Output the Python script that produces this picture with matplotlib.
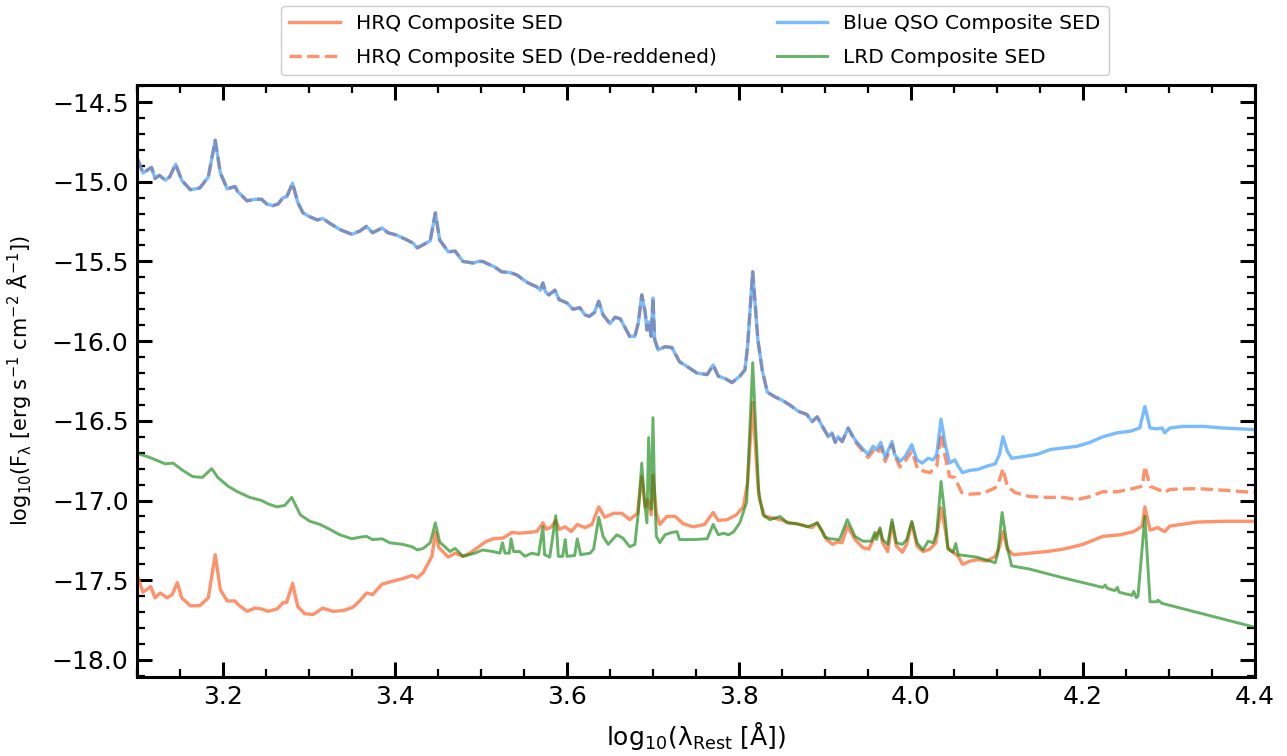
import numpy as np
import matplotlib
matplotlib.use("Agg")
import matplotlib.pyplot as plt
from matplotlib.ticker import MultipleLocator

plt.rcParams['mathtext.default'] = 'regular'

# Blue QSO composite
qso_x = np.array([
    3.101, 3.107, 3.117, 3.121, 3.126, 3.133, 3.138, 3.145, 3.152, 3.162,
    3.173, 3.183, 3.191, 3.197, 3.205, 3.214, 3.217, 3.228, 3.237, 3.245,
    3.251, 3.258, 3.264, 3.270, 3.274, 3.281, 3.287, 3.293, 3.301, 3.310,
    3.316, 3.324, 3.336, 3.350, 3.359, 3.367, 3.374, 3.385, 3.392, 3.402,
    3.414, 3.421, 3.426, 3.433, 3.441, 3.447, 3.452, 3.462, 3.470, 3.479,
    3.491, 3.497, 3.502, 3.508, 3.516, 3.524, 3.534, 3.542, 3.548, 3.555,
    3.565, 3.569, 3.572, 3.575, 3.579, 3.586, 3.591, 3.600, 3.607, 3.615,
    3.621, 3.626, 3.632, 3.637, 3.642, 3.650, 3.656, 3.662, 3.667, 3.673,
    3.679, 3.683, 3.687, 3.691, 3.693, 3.695, 3.698, 3.700, 3.702, 3.706,
    3.714, 3.722, 3.731, 3.740, 3.751, 3.763, 3.770, 3.776, 3.784, 3.792,
    3.801, 3.807, 3.810, 3.816, 3.822, 3.827, 3.833, 3.842, 3.850, 3.859,
    3.869, 3.879, 3.885, 3.891, 3.897, 3.904, 3.908, 3.912, 3.915, 3.920,
    3.927, 3.935, 3.943, 3.950, 3.956, 3.960, 3.965, 3.970, 3.978, 3.981,
    3.987, 3.993, 4.001, 4.007, 4.013, 4.020, 4.026, 4.030, 4.035, 4.040,
    4.045, 4.051, 4.055, 4.060, 4.069, 4.078, 4.088, 4.098, 4.103, 4.107,
    4.112, 4.117, 4.130, 4.147, 4.162, 4.177, 4.193, 4.208, 4.223, 4.240,
    4.255, 4.266, 4.272, 4.278, 4.286, 4.292, 4.295, 4.301, 4.316, 4.340,
    4.363, 4.400])
qso_y = np.array([
    -14.86, -14.945, -14.91, -14.98, -14.96, -14.99, -14.97, -14.89, -14.99, -15.05,
    -15.04, -14.97, -14.74, -14.945, -15.045, -15.03, -15.06, -15.12, -15.11, -15.11,
    -15.14, -15.15, -15.14, -15.10, -15.095, -15.01, -15.13, -15.195, -15.22, -15.24,
    -15.23, -15.26, -15.30, -15.33, -15.31, -15.28, -15.32, -15.29, -15.32, -15.335,
    -15.365, -15.385, -15.415, -15.395, -15.37, -15.195, -15.365, -15.44, -15.435, -15.50,
    -15.51, -15.50, -15.50, -15.515, -15.535, -15.565, -15.57, -15.585, -15.61, -15.635,
    -15.66, -15.68, -15.635, -15.69, -15.71, -15.68, -15.74, -15.76, -15.80, -15.79,
    -15.835, -15.845, -15.82, -15.75, -15.835, -15.89, -15.85, -15.86, -15.91, -15.97,
    -15.97, -15.885, -15.71, -15.82, -15.93, -15.88, -15.97, -15.73, -15.99, -16.055,
    -16.035, -16.04, -16.13, -16.16, -16.20, -16.21, -16.15, -16.22, -16.235, -16.26,
    -16.22, -16.18, -16.035, -15.565, -15.99, -16.18, -16.32, -16.35, -16.37, -16.40,
    -16.44, -16.46, -16.505, -16.475, -16.535, -16.60, -16.575, -16.635, -16.60, -16.63,
    -16.545, -16.62, -16.67, -16.71, -16.66, -16.68, -16.635, -16.73, -16.63, -16.71,
    -16.755, -16.725, -16.65, -16.745, -16.765, -16.735, -16.745, -16.71, -16.49, -16.65,
    -16.765, -16.745, -16.785, -16.825, -16.81, -16.805, -16.785, -16.77, -16.71, -16.60,
    -16.69, -16.735, -16.725, -16.71, -16.68, -16.67, -16.66, -16.635, -16.60, -16.575,
    -16.565, -16.545, -16.41, -16.545, -16.55, -16.545, -16.575, -16.545, -16.535, -16.535,
    -16.545, -16.555])

# De-reddened HRQ follows the QSO template up to ~3.93, then drops below it
dered_tail_x = np.array([
    3.935, 3.944, 3.950, 3.956, 3.960, 3.965, 3.970, 3.978, 3.983, 3.987,
    3.993, 4.001, 4.008, 4.015, 4.022, 4.030, 4.035, 4.040, 4.045, 4.051,
    4.059, 4.069, 4.084, 4.098, 4.103, 4.107, 4.112, 4.121, 4.138, 4.158,
    4.177, 4.193, 4.208, 4.223, 4.240, 4.258, 4.269, 4.272, 4.278, 4.287,
    4.295, 4.301, 4.333, 4.363, 4.400])
dered_tail_y = np.array([
    -16.63, -16.69, -16.73, -16.69, -16.71, -16.665, -16.755, -16.65, -16.74, -16.79,
    -16.755, -16.69, -16.805, -16.815, -16.825, -16.785, -16.58, -16.73, -16.85, -16.855,
    -16.95, -16.96, -16.955, -16.92, -16.87, -16.80, -16.91, -16.95, -16.975, -16.98,
    -16.98, -16.995, -16.975, -16.945, -16.945, -16.925, -16.91, -16.785, -16.91, -16.93,
    -16.95, -16.93, -16.925, -16.935, -16.95])

# HRQ composite (observed)
hrq_x = np.array([
    3.101, 3.107, 3.116, 3.121, 3.127, 3.135, 3.141, 3.147, 3.152, 3.162,
    3.173, 3.183, 3.191, 3.197, 3.205, 3.214, 3.217, 3.228, 3.237, 3.245,
    3.252, 3.263, 3.270, 3.274, 3.281, 3.287, 3.295, 3.305, 3.316, 3.328,
    3.340, 3.351, 3.359, 3.367, 3.374, 3.385, 3.398, 3.409, 3.420, 3.426,
    3.433, 3.443, 3.447, 3.451, 3.462, 3.470, 3.479, 3.487, 3.495, 3.505,
    3.514, 3.526, 3.536, 3.545, 3.555, 3.565, 3.572, 3.576, 3.582, 3.587,
    3.591, 3.598, 3.605, 3.612, 3.621, 3.629, 3.637, 3.644, 3.654, 3.664,
    3.673, 3.682, 3.687, 3.691, 3.694, 3.698, 3.700, 3.704, 3.708, 3.716,
    3.726, 3.735, 3.747, 3.760, 3.770, 3.776, 3.786, 3.797, 3.805, 3.810,
    3.816, 3.822, 3.824, 3.830, 3.836, 3.848, 3.859, 3.871, 3.885, 3.891,
    3.897, 3.902, 3.909, 3.914, 3.920, 3.926, 3.935, 3.944, 3.951, 3.958,
    3.964, 3.967, 3.973, 3.978, 3.983, 3.990, 3.995, 4.001, 4.007, 4.014,
    4.022, 4.029, 4.035, 4.040, 4.043, 4.049, 4.055, 4.060, 4.069, 4.078,
    4.088, 4.098, 4.103, 4.107, 4.112, 4.119, 4.138, 4.158, 4.177, 4.200,
    4.223, 4.243, 4.259, 4.269, 4.272, 4.278, 4.287, 4.295, 4.301, 4.333,
    4.363, 4.400])
hrq_y = np.array([
    -17.48, -17.575, -17.54, -17.61, -17.58, -17.61, -17.59, -17.515, -17.61, -17.66,
    -17.66, -17.61, -17.34, -17.56, -17.63, -17.63, -17.65, -17.695, -17.675, -17.68,
    -17.695, -17.68, -17.64, -17.64, -17.52, -17.665, -17.71, -17.715, -17.675, -17.695,
    -17.69, -17.67, -17.63, -17.58, -17.59, -17.525, -17.505, -17.49, -17.47, -17.485,
    -17.45, -17.35, -17.20, -17.295, -17.355, -17.33, -17.35, -17.33, -17.30, -17.26,
    -17.24, -17.235, -17.20, -17.205, -17.20, -17.195, -17.14, -17.18, -17.165, -17.125,
    -17.18, -17.165, -17.195, -17.15, -17.17, -17.15, -17.04, -17.105, -17.08, -17.08,
    -17.12, -17.08, -16.85, -17.04, -16.995, -17.09, -16.84, -17.08, -17.15, -17.10,
    -17.10, -17.145, -17.165, -17.15, -17.075, -17.125, -17.12, -17.09, -17.04, -16.89,
    -16.385, -16.90, -16.995, -17.10, -17.105, -17.12, -17.14, -17.15, -17.17, -17.14,
    -17.195, -17.245, -17.275, -17.26, -17.265, -17.16, -17.245, -17.295, -17.305, -17.225,
    -17.185, -17.265, -17.32, -17.14, -17.285, -17.325, -17.275, -17.14, -17.285, -17.32,
    -17.305, -17.265, -17.045, -17.185, -17.295, -17.325, -17.35, -17.40, -17.38, -17.37,
    -17.38, -17.35, -17.29, -17.195, -17.305, -17.34, -17.33, -17.32, -17.305, -17.275,
    -17.225, -17.215, -17.195, -17.16, -17.04, -17.185, -17.17, -17.195, -17.16, -17.135,
    -17.13, -17.13])

# LRD composite
lrd_x = np.array([
    3.101, 3.115, 3.133, 3.142, 3.153, 3.165, 3.176, 3.187, 3.194, 3.206,
    3.217, 3.231, 3.245, 3.252, 3.263, 3.272, 3.280, 3.290, 3.301, 3.313,
    3.324, 3.336, 3.350, 3.359, 3.367, 3.374, 3.385, 3.394, 3.409, 3.420,
    3.426, 3.433, 3.441, 3.447, 3.452, 3.464, 3.470, 3.479, 3.493, 3.502,
    3.514, 3.522, 3.525, 3.528, 3.533, 3.535, 3.538, 3.545, 3.551, 3.559,
    3.567, 3.572, 3.574, 3.580, 3.587, 3.590, 3.595, 3.598, 3.600, 3.609,
    3.612, 3.616, 3.627, 3.631, 3.637, 3.642, 3.648, 3.658, 3.665, 3.673,
    3.679, 3.683, 3.687, 3.690, 3.693, 3.695, 3.698, 3.700, 3.702, 3.704,
    3.708, 3.714, 3.722, 3.728, 3.731, 3.747, 3.763, 3.770, 3.776, 3.782,
    3.788, 3.794, 3.801, 3.809, 3.816, 3.823, 3.828, 3.836, 3.848, 3.856,
    3.867, 3.880, 3.891, 3.897, 3.900, 3.906, 3.917, 3.926, 3.935, 3.944,
    3.954, 3.958, 3.960, 3.964, 3.967, 3.973, 3.978, 3.983, 3.990, 3.995,
    4.001, 4.007, 4.014, 4.020, 4.026, 4.030, 4.035, 4.040, 4.043, 4.049,
    4.052, 4.055, 4.077, 4.098, 4.101, 4.106, 4.112, 4.117, 4.138, 4.177,
    4.223, 4.226, 4.228, 4.237, 4.240, 4.242, 4.257, 4.259, 4.262, 4.264,
    4.272, 4.278, 4.286, 4.287, 4.292, 4.400])
lrd_y = np.array([
    -16.705, -16.73, -16.77, -16.765, -16.81, -16.85, -16.855, -16.80, -16.855, -16.91,
    -16.945, -16.98, -17.00, -17.02, -17.04, -17.03, -16.98, -17.09, -17.13, -17.15,
    -17.18, -17.215, -17.24, -17.23, -17.225, -17.245, -17.24, -17.265, -17.275, -17.29,
    -17.31, -17.30, -17.265, -17.14, -17.26, -17.32, -17.30, -17.35, -17.33, -17.31,
    -17.32, -17.33, -17.265, -17.33, -17.33, -17.24, -17.32, -17.32, -17.35, -17.33,
    -17.34, -17.165, -17.34, -17.355, -17.095, -17.35, -17.35, -17.245, -17.35, -17.345,
    -17.24, -17.34, -17.33, -17.305, -17.105, -17.225, -17.275, -17.215, -17.235, -17.29,
    -17.275, -17.075, -16.765, -16.995, -17.14, -16.605, -17.055, -16.48, -16.975, -17.225,
    -17.265, -17.215, -17.20, -17.195, -17.245, -17.245, -17.24, -17.15, -17.215, -17.205,
    -17.215, -17.195, -17.14, -17.01, -16.135, -16.95, -17.09, -17.12, -17.10, -17.14,
    -17.145, -17.165, -17.14, -17.195, -17.23, -17.24, -17.245, -17.12, -17.225, -17.255,
    -17.255, -17.20, -17.245, -17.17, -17.245, -17.275, -17.12, -17.265, -17.275, -17.245,
    -17.13, -17.265, -17.31, -17.255, -17.265, -17.20, -16.88, -17.12, -17.305, -17.325,
    -17.27, -17.34, -17.355, -17.39, -17.33, -17.075, -17.29, -17.41, -17.43, -17.485,
    -17.545, -17.53, -17.55, -17.565, -17.545, -17.575, -17.595, -17.57, -17.61, -17.60,
    -17.10, -17.635, -17.635, -17.625, -17.645, -17.795])

mask = qso_x < 3.93
dered_x = np.concatenate([qso_x[mask], dered_tail_x])
dered_y = np.concatenate([qso_y[mask], dered_tail_y])

fig = plt.figure(figsize=(12.87, 7.56), dpi=100)
ax = fig.add_axes([0.1064, 0.1045, 0.8687, 0.7831])

ax.plot(hrq_x, hrq_y, color='coral', lw=2.4, alpha=0.85, label='HRQ Composite SED')
ax.plot(dered_x, dered_y, color='coral', lw=2.4, alpha=0.85, ls='--',
        label='HRQ Composite SED (De-reddened)')
ax.plot(qso_x, qso_y, color='dodgerblue', lw=2.4, alpha=0.6, label='Blue QSO Composite SED')
ax.plot(lrd_x, lrd_y, color='green', lw=2.1, alpha=0.6, label='LRD Composite SED')

ax.set_xlim(3.1, 4.4)
ax.set_ylim(-18.107, -14.393)
ax.xaxis.set_major_locator(MultipleLocator(0.2))
ax.xaxis.set_minor_locator(MultipleLocator(0.05))
ax.yaxis.set_major_locator(MultipleLocator(0.5))
ax.yaxis.set_minor_locator(MultipleLocator(0.1))
ax.tick_params(which='both', direction='in', top=True, right=True)
ax.tick_params(which='major', length=11, width=2.2, labelsize=18, pad=6)
ax.tick_params(which='minor', length=6, width=1.6)
for sp in ax.spines.values():
    sp.set_linewidth(2.2)

ax.set_xlabel(r'log$_{10}$($\lambda_{Rest}$ [Å])', fontsize=18, va='center')
ax.set_ylabel(r'log$_{10}$(F$_{\lambda}$ [erg s$^{-1}$ cm$^{-2}$ Å$^{-1}$])', fontsize=15, va='center')
ax.xaxis.set_label_coords(0.5, -0.100)
ax.yaxis.set_label_coords(-0.105, 0.5)

fig.legend(loc='upper center', bbox_to_anchor=(0.540, 0.998), ncol=2, fontsize=14.5,
           columnspacing=3.0, handlelength=2.5, labelspacing=0.75, borderaxespad=0.2,
           framealpha=1)

fig.savefig('out.png', dpi=100)
